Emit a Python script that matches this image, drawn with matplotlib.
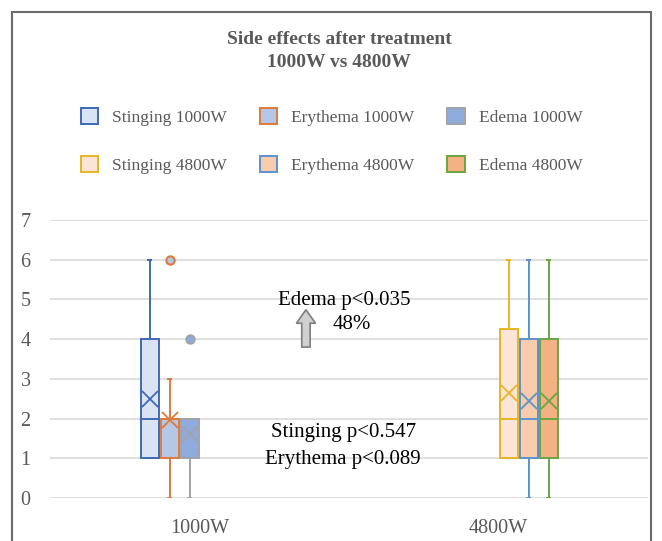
import matplotlib.pyplot as plt
from matplotlib.patches import Patch, Rectangle, FancyArrow

plt.rcParams['font.family'] = ['Liberation Serif', 'DejaVu Serif']

###############################################################################
categories = ['1000W', '4800W']
series = ['Stinging 1000W', 'Erythema 1000W', 'Edema 1000W',
          'Stinging 4800W', 'Erythema 4800W', 'Edema 4800W']
series_cat = [0, 0, 0, 1, 1, 1]

whis_lo = [1, 0, 0, 1, 0, 0]
q1 = [1, 1, 1, 1, 1, 1]
medians = [2, 2, 2, 2, 2, 2]
q3 = [4, 2, 2, 4.25, 4, 4]
whis_hi = [6, 3, 2, 6, 6, 6]
means = [2.49, 1.96, 1.6, 2.64, 2.43, 2.43]
outliers = [[], [6], [4], [], [], []]

fills = ['#DAE3F3', '#B4C7E7', '#8FAADC', '#FBE5D6', '#F8CBAD', '#F4B183']
edges = ['#4068B4', '#E07A3A', '#A0A4AA', '#E8B425', '#5B93CC', '#6AA544']
###############################################################################

txt = '#595959'
fig = plt.figure(figsize=(6.62, 5.41), dpi=100)
ax = fig.add_axes([50/662, 1-498/541, 598/662, 278/541])

slot = 20/299
for i, name in enumerate(series):
    pos = series_cat[i] + (i - 2.5) * slot
    st = dict(whislo=whis_lo[i], q1=q1[i], med=medians[i], q3=q3[i],
              whishi=whis_hi[i], mean=means[i], fliers=outliers[i])
    ln = dict(color=edges[i], linewidth=1.4)
    ax.bxp([st], positions=[pos], widths=0.9*slot, patch_artist=True,
           showmeans=True, capwidths=0.12*slot,
           boxprops=dict(facecolor=fills[i], edgecolor=edges[i], linewidth=1.4),
           medianprops=ln, whiskerprops=ln, capprops=ln,
           meanprops=dict(marker='x', markersize=12, markeredgecolor=edges[i],
                          markeredgewidth=1.3),
           flierprops=dict(marker='o', markersize=6, markerfacecolor=fills[i],
                           markeredgecolor=edges[i], markeredgewidth=1.5))

ax.set_xlim(-0.5, 1.5)
ax.set_ylim(0, 7)
ax.set_yticks(range(8))
ax.set_xticks([0, 1])
ax.set_xticklabels(categories)
ax.tick_params(axis='y', length=0, pad=14, labelsize=14.5, labelcolor=txt)
ax.tick_params(axis='x', length=0, pad=15, labelsize=14.5, labelcolor=txt)
ax.grid(axis='y', color='#D9D9D9', linewidth=1.2)
ax.set_axisbelow(True)
for s in ax.spines.values():
    s.set_visible(False)

# annotations
ax.text(0.483, 4.98, 'Edema p<0.035', ha='center', va='center', fontsize=15)
ax.text(0.446, 4.36, '48%', ha='left', va='center', fontsize=15)
ax.add_patch(FancyArrow(0.356, 3.8, 0, 0.94, width=0.028, head_width=0.064,
                        head_length=0.34, length_includes_head=True,
                        facecolor='#D0D0D0', edgecolor='#7F7F7F', linewidth=1.2))
ax.text(0.483, 1.64, 'Stinging p<0.547', ha='center', va='center', fontsize=15)
ax.text(0.478, 0.98, 'Erythema p<0.089', ha='center', va='center', fontsize=15)

# title
fig.text(0.512, 1-51/541, 'Side effects after treatment\n1000W vs 4800W',
         ha='center', va='center', fontsize=14, fontweight='bold',
         color=txt, linespacing=1.4)

# legend, column-wise order
order = [0, 3, 1, 4, 2, 5]
handles = [Patch(facecolor=fills[i], edgecolor=edges[i], linewidth=1.4,
                 label=series[i]) for i in order]
fig.legend(handles=handles, ncol=3, loc='center',
           bbox_to_anchor=(0.501, 1-141/541), frameon=False, fontsize=12.5,
           labelcolor=txt, handlelength=1.0, handleheight=1.0,
           handletextpad=0.8, columnspacing=1.9, labelspacing=1.75)

# outer frame
fig.patches.append(Rectangle((12/662, -0.1), 639/662, 1.1-12/541,
                             transform=fig.transFigure, fill=False,
                             edgecolor='#6B6B6B', linewidth=1.5))

fig.savefig('out.png', dpi=100)
